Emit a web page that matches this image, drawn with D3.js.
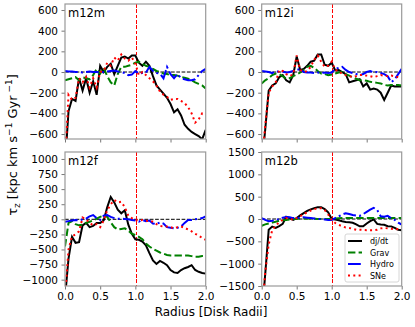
<!DOCTYPE html>
<html>
<head>
<meta charset="utf-8">
<script src="https://cdn.jsdelivr.net/npm/d3@7"></script>
<style>
  body { margin: 0; background: #fff; }
  svg { font-family: "DejaVu Sans", sans-serif; }
</style>
</head>
<body>
<div id="chart-area"></div>
<script>
// SVG size
var width = 415,
	height = 327;

// radius grid (disk radii)
var radii = [0, 0.05, 0.1, 0.15, 0.2, 0.25, 0.3, 0.35, 0.4, 0.45, 0.5, 0.55, 0.6, 0.65, 0.7, 0.75, 0.8, 0.85, 0.9, 0.95,
	1.0, 1.05, 1.1, 1.15, 1.2, 1.25, 1.3, 1.35, 1.4, 1.45, 1.5, 1.55, 1.6, 1.65, 1.7, 1.75, 1.8, 1.85, 1.9, 1.95, 2.0];

var seriesNames = ["dj/dt", "Grav", "Hydro", "SNe"];
var panelNames = ["m12m", "m12i", "m12f", "m12b"];

// m12m
var m12m_djdt = [-900, -380, -260, -280, -60, -180, -60, -200, -90, -220, 60, 0, 50, 80, -20, 60, 140, 150, 130, 160,
	160, 90, 60, 100, 60, -40, -130, -170, -210, -250, -310, -390, -360, -420, -510, -550, -580, -600, -620, -650, -560];
var m12m_grav = [-80, -70, -60, -50, -80, -50, -60, -70, -30, 30, -15, 40, -40, -100, -130, -20, 50, 50, 60, 70,
	90, 100, 80, 60, 50, 30, 10, 0, -15, -20, -30, -30, -35, -50, -55, -65, -80, -100, -115, -130, -160];
var m12m_hydro = [10, 5, 5, 0, 0, -5, 0, 5, 0, 0, -5, 0, 5, 10, 15, 5, 0, -10, -30, -25,
	10, -15, -10, -5, 50, 10, -10, -15, -60, 50, -20, -60, -20, -60, -70, -80, -80, -70, -30, 10, 30];
var m12m_sne = [-900, -220, -270, -250, -60, -100, -50, -150, -60, -150, 0, 10, 90, 60, 140, 110, 170, 130, 110, 140,
	80, -30, 0, -30, -60, -90, -130, -190, -220, -240, -270, -260, -260, -280, -300, -340, -400, -490, -460, -400, -400];

// m12i
var m12i_djdt = [-900, -560, -180, -130, -110, -50, -30, -80, -100, -30, 150, 20, 30, 60, 100, 110, 170, 170, 70, 60,
	90, 15, 20, 0, -20, -100, -90, -80, -70, -140, -110, -170, -160, -170, -200, -270, -200, -130, -140, -140, -140];
var m12i_grav = [-110, -80, -60, -30, -15, -20, -40, -65, -60, -40, -25, -5, 20, 50, 60, 40, 10, -15, -20, -30,
	-25, -15, -5, 0, -20, -35, -50, -65, -80, -80, -85, -95, -100, -105, -110, -125, -130, -125, -125, -125, -130];
var m12i_hydro = [10, 5, 0, -10, 10, 0, 5, -5, 0, 10, 20, 30, 0, -5, -5, -10, -5, -10, -5, -10,
	-5, 30, 40, 50, 20, 0, -10, -20, -30, -20, 0, 10, -5, 0, -10, -20, -40, -100, -70, -20, 30];
var m12i_sne = [-900, -520, -200, -140, -100, 20, 10, -20, -40, -20, 160, 20, 0, 10, 50, 120, 160, 100, 50, 60,
	100, 20, 10, -20, -30, -40, -50, -40, -30, -30, -35, -40, -50, -40, -30, -35, -40, -35, -40, -50, -60];

// m12f
var m12f_djdt = [-1300, -650, -290, -390, -380, -100, -60, -130, -110, -60, -60, -20, 200, 370, 280, 160, 100, 150, -90, -240,
	-330, -340, -370, -430, -560, -680, -740, -690, -720, -760, -840, -880, -890, -840, -810, -790, -760, -840, -870, -890, -900];
var m12f_grav = [-450, -60, -30, -80, -100, -90, -60, -40, -20, 10, 40, 60, 40, -50, -130, -170, -160, -150, -190, -240,
	-260, -290, -330, -400, -450, -490, -520, -550, -570, -590, -600, -600, -600, -600, -600, -600, -610, -620, -620, -610, -610];
var m12f_hydro = [-40, -30, -20, -10, -20, 0, 10, 50, 70, 20, -10, 60, 70, 40, 20, 10, 10, 5, 0, -10,
	-20, -40, -10, -30, -20, -70, -80, -50, -70, -130, -140, -150, -140, -120, -60, -10, -10, 0, 10, 20, 50];
var m12f_sne = [-1300, -500, -280, -250, -200, 30, 0, -60, -100, -80, -130, -20, 150, 250, 320, 280, 290, 200, 60, 20,
	-10, -20, -10, -30, -20, -40, -80, -110, -120, -120, -130, -150, -130, -120, -140, -170, -200, -240, -270, -310, -340];

// m12b
var m12b_djdt = [-2200, -1240, -240, -170, -200, -160, -110, 50, 20, -20, 20, 80, 130, 180, 215, 240, 265, 265, 220, 150,
	0, -10, -30, -50, -65, -75, -85, -120, -165, -165, -100, -50, -10, -110, -125, -130, -160, -165, -200, -240, -250];
var m12b_grav = [-150, -120, -100, -80, -60, -40, -30, -20, -10, 0, 0, 10, 10, 10, 5, 5, 0, 0, 0, 0,
	0, 10, 15, 20, 20, 20, 20, 20, 20, 20, 20, 20, 20, 20, 20, 20, 20, 20, 20, 20, 20];
var m12b_hydro = [20, -20, -50, -40, -20, 0, 30, 45, 40, 20, 20, 30, 40, 30, 20, 10, 0, 0, -10, -20,
	-20, 20, 60, 100, 130, 110, 90, 80, 70, 110, 160, 210, 250, 200, 60, 50, 70, 20, -20, -80, -125];
var m12b_sne = [-2200, -1200, -570, -250, -150, -70, -20, 20, 10, -20, 20, 60, 110, 150, 190, 220, 240, 240, 200, 100,
	-20, -90, -130, -165, -190, -200, -220, -240, -240, -245, -250, -250, -250, -240, -210, -200, -210, -220, -230, -225, -225];

// y ticks per panel
var ticksTop = [-600, -400, -200, 0, 200, 400, 600];
var ticksF = [-1000, -750, -500, -250, 0, 250, 500, 750, 1000];
var ticksB = [-1500, -1000, -500, 0, 500, 1000, 1500];
var xTicks = [0, 0.5, 1.0, 1.5, 2.0];

var styles = [
	{color: "#000000", dash: null},
	{color: "#008000", dash: "7.4,3.2"},
	{color: "#0000ff", dash: "12.8,3.2,2,3.2"},
	{color: "#ff0000", dash: "2,3.3"}
];

var panels = [
	{name: panelNames[0], x0: 65, x1: 205.7, y0: 4, y1: 139, dom: [-648, 658], ticks: ticksTop, xlab: false,
		data: [m12m_djdt, m12m_grav, m12m_hydro, m12m_sne]},
	{name: panelNames[1], x0: 261.7, x1: 401.7, y0: 4, y1: 139, dom: [-648, 658], ticks: ticksTop, xlab: false,
		data: [m12i_djdt, m12i_grav, m12i_hydro, m12i_sne]},
	{name: panelNames[2], x0: 65, x1: 205.7, y0: 152, y1: 286, dom: [-1105, 1115], ticks: ticksF, xlab: true,
		data: [m12f_djdt, m12f_grav, m12f_hydro, m12f_sne]},
	{name: panelNames[3], x0: 261.7, x1: 401.7, y0: 152, y1: 286, dom: [-1500, 1500], ticks: ticksB, xlab: true,
		data: [m12b_djdt, m12b_grav, m12b_hydro, m12b_sne]}
];

var svg = d3.select("#chart-area").append("svg")
	.attr("width", width)
	.attr("height", height);

panels.forEach(function(p, i) {
	var x = d3.scaleLinear().domain([0, 2]).range([p.x0, p.x1]);
	var y = d3.scaleLinear().domain(p.dom).range([p.y1, p.y0]);

	svg.append("clipPath").attr("id", "clip" + i)
		.append("rect")
		.attr("x", p.x0).attr("y", p.y0)
		.attr("width", p.x1 - p.x0).attr("height", p.y1 - p.y0);

	var g = svg.append("g").attr("clip-path", "url(#clip" + i + ")");

	// zero line
	g.append("line")
		.attr("x1", p.x0).attr("x2", p.x1)
		.attr("y1", y(0)).attr("y2", y(0))
		.attr("stroke", "#000").attr("stroke-width", 1)
		.attr("stroke-dasharray", "3.7,1.6");

	// disk radius marker, kept on an even pixel column so it stays bright
	var xr = Math.round(x(1) / 2) * 2 + 0.5;
	g.append("line")
		.attr("x1", xr).attr("x2", xr)
		.attr("y1", p.y0).attr("y2", p.y1)
		.attr("stroke", "#ff0000").attr("stroke-width", 1)
		.attr("shape-rendering", "crispEdges")
		.attr("stroke-dasharray", "3.7,1.6");

	var line = d3.line()
		.x(function(d, j) { return x(radii[j]); })
		.y(function(d) { return y(d); });

	// draw order: dj/dt first, then grav, hydro, SNe on top
	p.data.forEach(function(vals, k) {
		g.append("path")
			.datum(vals)
			.attr("d", line)
			.attr("fill", "none")
			.attr("stroke", styles[k].color)
			.attr("stroke-width", 2)
			.attr("stroke-dasharray", styles[k].dash);
	});

	// axes
	var yAxis = d3.axisLeft(y).tickValues(p.ticks).tickSize(3.5).tickPadding(3.5)
		.tickFormat(d3.format("d"));
	var xAxis = d3.axisBottom(x).tickValues(xTicks).tickSize(3.5).tickPadding(3.5)
		.tickFormat(p.xlab ? d3.format(".1f") : "");

	var ya = svg.append("g")
		.attr("transform", "translate(" + p.x0 + ",0)")
		.call(yAxis);
	var xa = svg.append("g")
		.attr("transform", "translate(0," + p.y1 + ")")
		.call(xAxis);
	[ya, xa].forEach(function(a) {
		a.select(".domain").remove();
		a.selectAll(".tick line").attr("stroke", "#555").attr("stroke-width", 0.8);
		a.selectAll(".tick text").attr("fill", "#000").style("font-size", "10.5px")
			.style("font-family", "'DejaVu Sans', sans-serif");
	});

	// frame
	svg.append("rect")
		.attr("x", p.x0).attr("y", p.y0)
		.attr("width", p.x1 - p.x0).attr("height", p.y1 - p.y0)
		.attr("fill", "none").attr("stroke", "#999").attr("stroke-width", 1.2);

	// panel label
	svg.append("text")
		.attr("x", p.x0 + 3).attr("y", p.y0 + 13)
		.style("font-size", "11.5px")
		.text(p.name);
});

// legend in the m12b panel
var leg = svg.append("g").attr("transform", "translate(345,234)");
leg.append("rect")
	.attr("width", 54).attr("height", 48).attr("rx", 2)
	.attr("fill", "#fff").attr("fill-opacity", 0.8)
	.attr("stroke", "#ccc").attr("stroke-width", 0.8);
seriesNames.forEach(function(n, k) {
	var yy = 7 + k * 11.5;
	leg.append("line")
		.attr("x1", 3).attr("x2", 17).attr("y1", yy).attr("y2", yy)
		.attr("stroke", styles[k].color).attr("stroke-width", 2)
		.attr("stroke-dasharray", styles[k].dash);
	leg.append("text")
		.attr("x", 25).attr("y", yy + 3)
		.style("font-size", "8px")
		.text(n);
});

// axis labels
svg.append("text")
	.attr("x", 211).attr("y", 316)
	.attr("text-anchor", "middle")
	.style("font-size", "12px")
	.text("Radius [Disk Radii]");

var yl = svg.append("text")
	.attr("transform", "translate(17,145) rotate(-90)")
	.attr("text-anchor", "middle")
	.style("font-size", "13px");
yl.append("tspan").text("τ");
yl.append("tspan").attr("dy", 3).style("font-size", "9px").text("z");
yl.append("tspan").attr("dy", -3).text(" [kpc km s");
yl.append("tspan").attr("dy", -5).style("font-size", "9px").text("−1");
yl.append("tspan").attr("dy", 5).text(" Gyr");
yl.append("tspan").attr("dy", -5).style("font-size", "9px").text(" −1");
yl.append("tspan").attr("dy", 5).text("]");
</script>
</body>
</html>
